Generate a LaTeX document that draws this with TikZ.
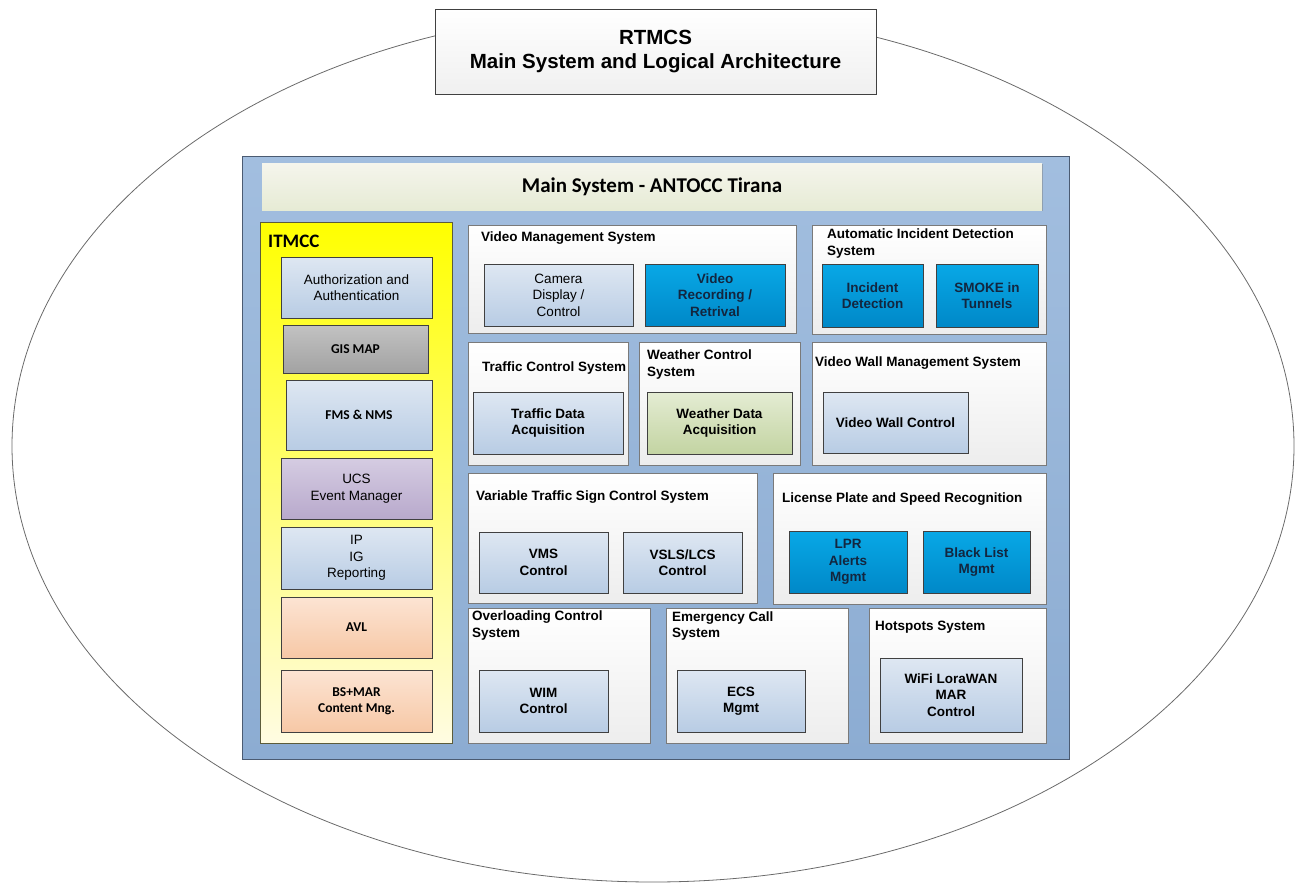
\documentclass[tikz,border=0pt]{standalone}
\usepackage{fontspec}
\setmainfont{Liberation Sans}
\newfontfamily\calfont{Carlito}
\usetikzlibrary{shadows}

\definecolor{panelblue}{HTML}{95B3D7}
\definecolor{paneltop}{HTML}{A2BEDF}
\definecolor{panelbot}{HTML}{8CACD2}
\definecolor{panelline}{HTML}{4B5B72}
\definecolor{hdrtop}{HTML}{F5F5EC}
\definecolor{hdrbot}{HTML}{E6EBD5}
\definecolor{grpbot}{HTML}{EDEDED}
\definecolor{grpline}{HTML}{7A7A7A}
\definecolor{subline}{HTML}{404040}
\definecolor{ltbtop}{HTML}{DEE7F2}
\definecolor{ltbbot}{HTML}{B8CCE4}
\definecolor{brtop}{HTML}{08A8E6}
\definecolor{brbot}{HTML}{0088C8}
\definecolor{brtext}{HTML}{13263F}
\definecolor{greytop}{HTML}{C2C2C2}
\definecolor{greybot}{HTML}{A2A2A2}
\definecolor{purtop}{HTML}{D5CCE2}
\definecolor{purbot}{HTML}{B8A9CC}
\definecolor{peachtop}{HTML}{FCE4D3}
\definecolor{peachbot}{HTML}{F7C8A6}
\definecolor{greentop}{HTML}{E4ECD3}
\definecolor{greenbot}{HTML}{C3D4A2}
\definecolor{ylwbot}{HTML}{FFFCE2}
\definecolor{ylwline}{HTML}{5C5C3A}
\definecolor{ovalline}{HTML}{6A6A6A}

% box from corner (x1,y1) to corner (x2,y2), in pixel-like units
\newcommand\bx[7]{\node[#6, minimum width={(#4-#2)*1pt}, minimum height={(#5-#3)*1pt}]
  (#1) at ({(#2+#4)/2},{(#3+#5)/2}) {#7};}

\tikzset{
  shd/.style={drop shadow={shadow xshift=1.3pt, shadow yshift=-1.3pt, opacity=0.35, fill=black!70}},
  basebox/.style={inner sep=0pt, outer sep=0pt, align=center, shd},
  txt/.style={font=\fontsize{13.5}{16.5}\selectfont},
  btxt/.style={font=\bfseries\fontsize{13.5}{16.5}\selectfont},
  ctxt/.style={font=\calfont\bfseries\fontsize{13.5}{16.5}\selectfont},
  panel/.style={basebox, draw=panelline, line width=0.8pt, top color=paneltop, bottom color=panelbot},
  header/.style={basebox, top color=hdrtop, bottom color=hdrbot, font=\calfont\bfseries\fontsize{21}{24}\selectfont},
  group/.style={basebox, draw=grpline, line width=0.8pt, top color=white, bottom color=grpbot},
  itmcc/.style={basebox, draw=ylwline, line width=0.8pt, top color=yellow, middle color=yellow, bottom color=ylwbot},
  sub/.style={basebox, draw=subline, line width=0.9pt},
  ltb/.style={sub, top color=ltbtop, bottom color=ltbbot},
  brb/.style={sub, top color=brtop, bottom color=brbot, btxt, text=brtext},
  greyb/.style={sub, top color=greytop, bottom color=greybot},
  purb/.style={sub, top color=purtop, bottom color=purbot},
  peachb/.style={sub, top color=peachtop, bottom color=peachbot},
  greenb/.style={sub, top color=greentop, bottom color=greenbot},
  gtitle/.style={inner sep=0pt, align=left, font=\bfseries\fontsize{13.5}{16.5}\selectfont},
  titlebox/.style={basebox, draw=subline, line width=0.9pt, top color=white, bottom color=black!6,
    font=\bfseries\fontsize{20.5}{24}\selectfont}
}

\begin{document}
\begin{tikzpicture}[x=1pt,y=-1pt]
\useasboundingbox (0,0) rectangle (1301,883);

% outer oval
\draw[ovalline, line width=0.8pt] (653,446) ellipse [x radius=641, y radius=436];

% title
\bx{title}{435}{9}{876}{94}{titlebox}{RTMCS\\Main System and Logical Architecture}

% main panel and header
\bx{panel}{242}{156}{1069}{759}{panel}{}
\bx{hdr}{262}{163}{1042}{210}{header}{Main System - ANTOCC Tirana}

% ITMCC column
\bx{itmcc}{260}{222}{452}{743}{itmcc}{}
\node[inner sep=0pt, anchor=west, font=\calfont\bfseries\fontsize{19}{22}\selectfont] (itmcc-t) at (268,241) {ITMCC};
\bx{auth}{281}{257}{432}{318}{ltb,txt}{Authorization and\\Authentication}
\bx{gis}{283}{325}{428}{373}{greyb,ctxt}{GIS MAP}
\bx{fms}{286}{380}{432}{450}{ltb,ctxt}{FMS \& NMS}
\bx{ucs}{281}{458}{432}{519}{purb,txt}{UCS\\Event Manager}
\bx{ip}{281}{527}{432}{589}{ltb,txt}{IP\\IG\\Reporting}
\bx{avl}{281}{597}{432}{658}{peachb,ctxt}{AVL}
\bx{bs}{281}{670}{432}{732}{peachb,ctxt}{BS+MAR\\Content Mng.}

% row 1
\bx{vms}{468}{225}{796}{333}{group}{}
\node[gtitle, anchor=west] (vms-t) at (481,238) {Video Management System};
\bx{cam}{484}{264}{633}{326}{ltb,txt}{Camera\\Display /\\Control}
\bx{rec}{645}{264}{785}{326}{brb}{Video\\Recording /\\Retrival}

\bx{aid}{812}{225}{1046}{334}{group}{}
\node[gtitle, anchor=west] (aid-t) at (827,243.5) {Automatic Incident Detection\\System};
\bx{inc}{822}{264}{923}{327}{brb}{Incident\\Detection}
\bx{smoke}{936}{264}{1038}{327}{brb}{SMOKE in\\Tunnels}

% row 2
\bx{tcs}{468}{342}{628}{465}{group}{}
\node[gtitle, anchor=west] (tcs-t) at (482,368) {Traffic Control System};
\bx{tda}{473}{392}{623}{454}{ltb,btxt}{Traffic Data\\Acquisition}

\bx{wcs}{639}{342}{800}{465}{group}{}
\node[gtitle, anchor=west] (wcs-t) at (647,364.5) {Weather Control\\System};
\bx{wda}{647}{392}{792}{454}{greenb,btxt}{Weather Data\\Acquisition}

\bx{vwm}{812}{342}{1046}{465}{group}{}
\node[gtitle, anchor=west] (vwm-t) at (815,363) {Video Wall Management System};
\bx{vwc}{823}{392}{968}{453}{ltb,btxt}{Video Wall Control}

% row 3
\bx{vts}{468}{473}{757}{603}{group}{}
\node[gtitle, anchor=west] (vts-t) at (476,497) {Variable Traffic Sign Control System};
\bx{vmsc}{479}{532}{608}{593}{ltb,btxt}{VMS\\Control}
\bx{vsls}{623}{532}{742}{593}{ltb,btxt}{VSLS/LCS\\Control}

\bx{lpr}{773}{473}{1046}{604}{group}{}
\node[gtitle, anchor=west] (lpr-t) at (782,499) {License Plate and Speed Recognition};
\bx{lpra}{789}{531}{907}{593}{brb}{LPR\\Alerts\\Mgmt}
\bx{black}{923}{531}{1030}{593}{brb}{Black List\\Mgmt}

% row 4
\bx{ocs}{468}{608}{650}{743}{group}{}
\node[gtitle, anchor=west] (ocs-t) at (472,625.5) {Overloading Control\\System};
\bx{wim}{479}{670}{608}{732}{ltb,btxt}{WIM\\Control}

\bx{ecs}{666}{608}{848}{743}{group}{}
\node[gtitle, anchor=west] (ecs-t) at (672,626) {Emergency Call\\System};
\bx{ecsm}{677}{670}{805}{732}{ltb,btxt}{ECS\\Mgmt}

\bx{hot}{869}{608}{1046}{743}{group}{}
\node[gtitle, anchor=west] (hot-t) at (875,627) {Hotspots System};
\bx{wifi}{880}{658}{1022}{732}{ltb,btxt}{WiFi LoraWAN\\MAR\\Control}
\end{tikzpicture}
\end{document}
